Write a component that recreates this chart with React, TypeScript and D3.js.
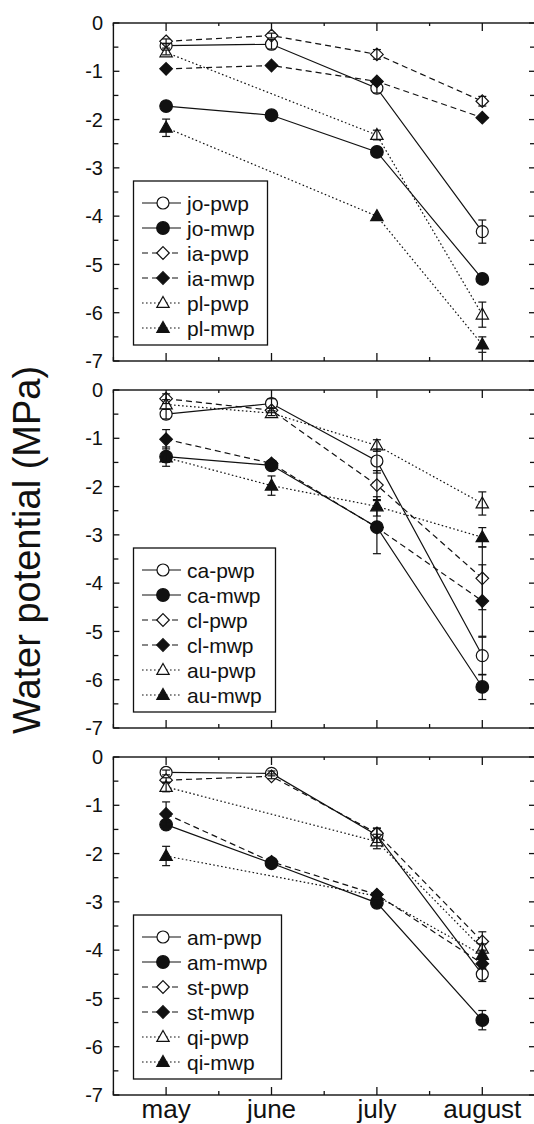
import React from "react";
import * as d3 from "d3";

const MONTHS = ["may", "june", "july", "august"];
const Y_TICKS = [0, -1, -2, -3, -4, -5, -6, -7];
const Y_LABEL = "Water potential (MPa)";

// Panel 1
const P1_NAMES = ["jo-pwp", "jo-mwp", "ia-pwp", "ia-mwp", "pl-pwp", "pl-mwp"];
const joPwp = [-0.47, -0.44, -1.35, -4.32];
const joMwp = [-1.72, -1.91, -2.67, -5.3];
const iaPwp = [-0.38, -0.26, -0.65, -1.62];
const iaMwp = [-0.95, -0.88, -1.21, -1.96];
const plPwp = [-0.61, null, -2.32, -6.04];
const plMwp = [-2.17, null, -4.0, -6.66];
const joPwpErr = [0.05, 0.1, 0.1, 0.24];
const joMwpErr = [0, 0, 0, 0];
const iaPwpErr = [0.05, 0.05, 0.1, 0.1];
const iaMwpErr = [0, 0, 0.05, 0];
const plPwpErr = [0.05, null, 0.1, 0.26];
const plMwpErr = [0.18, null, 0, 0.16];

// Panel 2
const P2_NAMES = ["ca-pwp", "ca-mwp", "cl-pwp", "cl-mwp", "au-pwp", "au-mwp"];
const caPwp = [-0.5, -0.28, -1.47, -5.5];
const caMwp = [-1.38, -1.56, -2.84, -6.15];
const clPwp = [-0.18, -0.42, -1.97, -3.9];
const clMwp = [-1.02, -1.52, -2.85, -4.37];
const auPwp = [-0.3, -0.48, -1.15, -2.35];
const auMwp = [-1.4, -1.98, -2.41, -3.05];
const caPwpErr = [0.1, 0.1, 0.25, 0.4];
const caMwpErr = [0.2, 0.05, 0.55, 0.26];
const clPwpErr = [0.1, 0.05, 0.3, 0.65];
const clMwpErr = [0.2, 0, 0, 0.75];
const auPwpErr = [0.1, 0.05, 0.12, 0.24];
const auMwpErr = [0.1, 0.2, 0.2, 0.2];

// Panel 3
const P3_NAMES = ["am-pwp", "am-mwp", "st-pwp", "st-mwp", "qi-pwp", "qi-mwp"];
const amPwp = [-0.32, -0.34, -1.62, -4.5];
const amMwp = [-1.4, -2.2, -3.02, -5.45];
const stPwp = [-0.48, -0.4, -1.58, -3.82];
const stMwp = [-1.18, -2.17, -2.85, -4.28];
const qiPwp = [-0.62, null, -1.75, -3.97];
const qiMwp = [-2.05, null, -2.88, -4.1];
const amPwpErr = [0.05, 0.05, 0.15, 0.15];
const amMwpErr = [0.05, 0.05, 0.05, 0.2];
const stPwpErr = [0.05, 0.05, 0.1, 0.2];
const stMwpErr = [0.25, 0, 0.05, 0.1];
const qiPwpErr = [0.1, null, 0.15, 0.1];
const qiMwpErr = [0.2, null, 0.05, 0.1];

const PANELS = [
  { names: P1_NAMES, values: [joPwp, joMwp, iaPwp, iaMwp, plPwp, plMwp], errs: [joPwpErr, joMwpErr, iaPwpErr, iaMwpErr, plPwpErr, plMwpErr] },
  { names: P2_NAMES, values: [caPwp, caMwp, clPwp, clMwp, auPwp, auMwp], errs: [caPwpErr, caMwpErr, clPwpErr, clMwpErr, auPwpErr, auMwpErr] },
  { names: P3_NAMES, values: [amPwp, amMwp, stPwp, stMwp, qiPwp, qiMwp], errs: [amPwpErr, amMwpErr, stPwpErr, stMwpErr, qiPwpErr, qiMwpErr] },
];

// layout / styles
const W = 534;
const H = 1124;
const PANEL_TOPS = [23, 390, 757];
const PANEL_H = 338;
const X_LEFT = 113.4;
const X_RIGHT = 535;
const LEGEND_W = [134, 142, 148];
const FONT = "'Liberation Sans', Arial, Helvetica, sans-serif";
const INK = "#111";

const STYLES = [
  { dash: null, marker: "circle", filled: false },
  { dash: null, marker: "circle", filled: true },
  { dash: "6,4", marker: "diamond", filled: false },
  { dash: "6,4", marker: "diamond", filled: true },
  { dash: "1.6,2.4", marker: "triangle", filled: false },
  { dash: "1.6,2.4", marker: "triangle", filled: true },
];

function Marker({ x, y, type, filled }: { x: number; y: number; type: string; filled: boolean }) {
  const fill = filled ? INK : "#fff";
  const sw = 1.2;
  if (type === "circle") {
    return <circle cx={x} cy={y} r={filled ? 6.3 : 6} fill={fill} stroke={INK} strokeWidth={sw} />;
  }
  if (type === "diamond") {
    const s = 6.3;
    return <path d={`M${x},${y - s}L${x + s},${y}L${x},${y + s}L${x - s},${y}Z`} fill={fill} stroke={INK} strokeWidth={sw} />;
  }
  const s = 6.5;
  return <path d={`M${x},${y - s}L${x + s * 0.95},${y + s * 0.68}L${x - s * 0.95},${y + s * 0.68}Z`} fill={fill} stroke={INK} strokeWidth={sw} />;
}

function Panel({ idx }: { idx: number }) {
  const top = PANEL_TOPS[idx];
  const bottom = top + PANEL_H;
  const panel = PANELS[idx];
  const x = d3.scaleLinear().domain([0.5, 4.5]).range([X_LEFT, X_RIGHT]);
  const y = d3.scaleLinear().domain([0, -7]).range([top, bottom]);
  const yTicksAll = d3.range(0, -7.01, -0.5);
  const xTicksAll = d3.range(0.5, 4.51, 0.5);

  const lineGen = d3
    .line<{ i: number; v: number }>()
    .x((d) => x(d.i + 1))
    .y((d) => y(d.v));

  const series = panel.values.map((vals, s) => ({
    name: panel.names[s],
    style: STYLES[s],
    pts: vals
      .map((v, i) => ({ i, v: v as number, e: (panel.errs[s][i] as number) || 0 }))
      .filter((d, i) => vals[i] !== null),
  }));

  const legTop = top + 158;
  const legLeft = 133.5;
  const legH = 164;
  const rowY0 = legTop + 22;
  const rowStep = 25;

  return (
    <g>
      {/* series lines */}
      {series.map((s) => (
        <path
          key={"l" + s.name}
          d={lineGen(s.pts) || ""}
          fill="none"
          stroke={INK}
          strokeWidth={1.2}
          strokeDasharray={s.style.dash || undefined}
        />
      ))}
      {/* markers */}
      {series.map((s) =>
        s.pts.map((p) => (
          <Marker key={"m" + s.name + p.i} x={x(p.i + 1)} y={y(p.v)} type={s.style.marker} filled={s.style.filled} />
        ))
      )}
      {/* error bars */}
      {series.map((s) =>
        s.pts
          .filter((p) => p.e > 0)
          .map((p) => {
            const cx = x(p.i + 1);
            const y1 = y(p.v + p.e);
            const y2 = y(p.v - p.e);
            return (
              <g key={"e" + s.name + p.i} stroke={INK} strokeWidth={1.2}>
                <line x1={cx} x2={cx} y1={y1} y2={y2} />
                <line x1={cx - 4} x2={cx + 4} y1={y1} y2={y1} />
                <line x1={cx - 4} x2={cx + 4} y1={y2} y2={y2} />
              </g>
            );
          })
      )}
      {/* frame */}
      <rect x={X_LEFT} y={top} width={X_RIGHT - X_LEFT} height={PANEL_H} fill="none" stroke={INK} strokeWidth={1.4} />
      {/* y ticks left & right */}
      {yTicksAll.map((t) => {
        const major = Math.abs(t - Math.round(t)) < 1e-6;
        const len = major ? 6 : 5;
        return (
          <g key={"yt" + t} stroke={INK} strokeWidth={1.3}>
            <line x1={X_LEFT} x2={X_LEFT + len} y1={y(t)} y2={y(t)} />
            <line x1={X_RIGHT} x2={X_RIGHT - len} y1={y(t)} y2={y(t)} />
          </g>
        );
      })}
      {/* x ticks top & bottom */}
      {xTicksAll.map((t) => {
        const major = Math.abs(t - Math.round(t)) < 1e-6;
        return (
          <g key={"xt" + t} stroke={INK} strokeWidth={1.3}>
            <line x1={x(t)} x2={x(t)} y1={top} y2={top + (major ? 8 : 3)} />
            <line x1={x(t)} x2={x(t)} y1={bottom} y2={bottom - (major ? 8 : 4)} />
          </g>
        );
      })}
      {/* y tick labels */}
      {Y_TICKS.map((t) => (
        <text
          key={"yl" + t}
          x={103}
          y={y(t)}
          dy="0.36em"
          textAnchor="end"
          fontFamily={FONT}
          fontSize={20}
          fill={INK}
        >
          {t === 0 ? "0" : "-" + Math.abs(t)}
        </text>
      ))}
      {/* legend */}
      <rect x={legLeft} y={legTop} width={LEGEND_W[idx]} height={legH} fill="#fff" stroke={INK} strokeWidth={1.3} />
      {series.map((s, k) => {
        const ry = rowY0 + k * rowStep;
        return (
          <g key={"lg" + s.name}>
            <line
              x1={142}
              x2={181}
              y1={ry}
              y2={ry}
              stroke={INK}
              strokeWidth={1.2}
              strokeDasharray={s.style.dash || undefined}
            />
            <Marker x={163} y={ry} type={s.style.marker} filled={s.style.filled} />
            <text x={187} y={ry} dy="0.36em" fontFamily={FONT} fontSize={21} fill={INK}>
              {s.name}
            </text>
          </g>
        );
      })}
    </g>
  );
}

export default function App() {
  const x = d3.scaleLinear().domain([0.5, 4.5]).range([X_LEFT, X_RIGHT]);
  return (
    <svg
      width={W}
      height={H}
      viewBox={`0 0 ${W} ${H}`}
      style={{ position: "absolute", left: 0, top: 0, background: "#fff" }}
    >
      <rect x={0} y={0} width={W} height={H} fill="#fff" />
      {PANELS.map((_, i) => (
        <Panel key={i} idx={i} />
      ))}
      {MONTHS.map((m, i) => (
        <text
          key={m}
          x={x(i + 1)}
          y={1118}
          textAnchor="middle"
          fontFamily={FONT}
          fontSize={26}
          fill={INK}
        >
          {m}
        </text>
      ))}
      <text
        transform={`translate(40,550) rotate(-90)`}
        textAnchor="middle"
        fontFamily={FONT}
        fontSize={38}
        fill={INK}
      >
        {Y_LABEL}
      </text>
    </svg>
  );
}
